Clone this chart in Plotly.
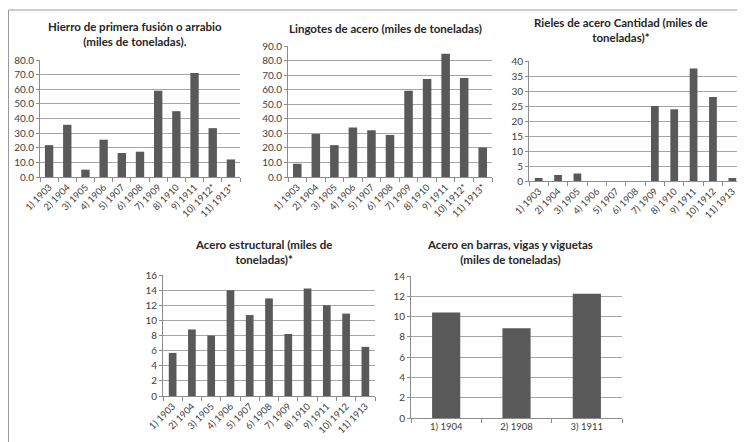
import plotly.graph_objects as go

# page body has an 8px margin, so the figure is drawn 8px right/down
OFF = 8
W, H = 745 - OFF, 442 - OFF

# ---- data ----
years11 = ["1) 1903", "2) 1904", "3) 1905", "4) 1906", "5) 1907", "6) 1908",
           "7) 1909", "8) 1910", "9) 1911", "10) 1912*", "11) 1913*"]
years11_plain = ["1) 1903", "2) 1904", "3) 1905", "4) 1906", "5) 1907", "6) 1908",
                 "7) 1909", "8) 1910", "9) 1911", "10) 1912", "11) 1913"]
years3 = ["1) 1904", "2) 1908", "3) 1911"]

hierro = [21.8, 35.7, 5.0, 25.5, 16.4, 17.3, 58.9, 45.0, 71.1, 33.4, 12.0]
lingotes = [9.1, 29.6, 21.9, 34.0, 32.1, 28.9, 59.2, 67.4, 84.7, 68.1, 20.3]
rieles = [1.0, 2.0, 2.5, 0, 0, 0, 25.0, 23.9, 37.5, 28.0, 1.0]
estructural = [5.7, 8.8, 8.0, 14.0, 10.7, 12.9, 8.2, 14.2, 12.0, 10.9, 6.5]
barras = [10.4, 8.85, 12.26]

titles = [
    "Hierro de primera fusión o arrabio<br>(miles de toneladas).",
    "Lingotes de acero (miles de toneladas)",
    "Rieles de acero Cantidad (miles de<br>toneladas)*",
    "Acero estructural (miles de<br>toneladas)*",
    "Acero en barras, vigas y viguetas<br>(miles de toneladas)",
]


def fx(px):
    return (px - OFF) / W


def fy(py):
    return 1 - (py - OFF) / H


# ---- layout in (screen) pixels ----
panels = [
    dict(x=(40, 240), y=(60, 177), ymax=80, dt=10, fmt=".1f", gap=0.54, tx=135, ty=34, cats=years11, vals=hierro, ang=-45),
    dict(x=(288, 492), y=(46, 177), ymax=90, dt=10, fmt=".1f", gap=0.54, tx=385, ty=29, cats=years11, vals=lingotes, ang=-45),
    dict(x=(529, 742), y=(61, 181), ymax=40, dt=5, fmt="d", gap=0.6, tx=621, ty=30, cats=years11_plain, vals=rieles, ang=-45),
    dict(x=(163, 375), y=(275, 396), ymax=16, dt=2, fmt="d", gap=0.6, tx=264, ty=252, cats=years11_plain, vals=estructural, ang=-45),
    dict(x=(411, 622), y=(276, 418), ymax=14, dt=2, fmt="d", gap=0.6, tx=510, ty=252, cats=years3, vals=barras, ang=0),
]

FONT = "Lato"
BAR = "#595959"
GRID = "#a6a6a6"
AXIS = "#8c8c8c"

fig = go.Figure()
annotations = []
layout = dict(
    width=W, height=H, margin=dict(l=0, r=0, t=0, b=0, autoexpand=False),
    paper_bgcolor="white", plot_bgcolor="white", showlegend=False,
    font=dict(family=FONT, size=10, color="#404040"),
)

for i, p in enumerate(panels):
    n = "" if i == 0 else str(i + 1)
    fig.add_trace(go.Bar(x=p["cats"], y=p["vals"], marker=dict(color=BAR, line=dict(width=0)),
                         xaxis="x" + n, yaxis="y" + n, width=1 - p["gap"]))
    layout["xaxis" + n] = dict(
        domain=[fx(p["x"][0]), fx(p["x"][1])], anchor="y" + n,
        type="category", tickson="boundaries", ticks="outside", ticklen=4,
        tickcolor=AXIS, showline=True, linecolor=AXIS, linewidth=1,
        tickangle=p["ang"], tickfont=dict(size=9.5, color="#404040", family=FONT),
        showgrid=False, fixedrange=True, automargin=False,
    )
    layout["yaxis" + n] = dict(
        domain=[fy(p["y"][1]), fy(p["y"][0])], anchor="x" + n,
        range=[0, p["ymax"]], dtick=p["dt"], tickformat=p["fmt"],
        showgrid=True, gridcolor=GRID, gridwidth=1,
        showline=True, linecolor=AXIS, linewidth=1,
        ticks="outside", ticklen=3, tickcolor=AXIS,
        tickfont=dict(size=10, color="#404040", family=FONT),
        zeroline=False, fixedrange=True, automargin=False,
    )
    annotations.append(dict(
        text="<b>" + titles[i] + "</b>", x=fx(p["tx"]), y=fy(p["ty"]),
        xref="paper", yref="paper", xanchor="center", yanchor="middle",
        showarrow=False, align="center",
        font=dict(family=FONT, size=11.5, color="#262626"),
    ))

layout["annotations"] = annotations
layout["shapes"] = [
    dict(type="line", xref="paper", yref="paper", x0=fx(8.5), x1=fx(8.5), y0=0, y1=fy(10),
         line=dict(color="#9a9a9a", width=1)),
    dict(type="line", xref="paper", yref="paper", x0=fx(8.5), x1=1, y0=fy(10), y1=fy(10),
         line=dict(color="#9a9a9a", width=1)),
]
fig.update_layout(**layout)
fig.write_html("out.html")
